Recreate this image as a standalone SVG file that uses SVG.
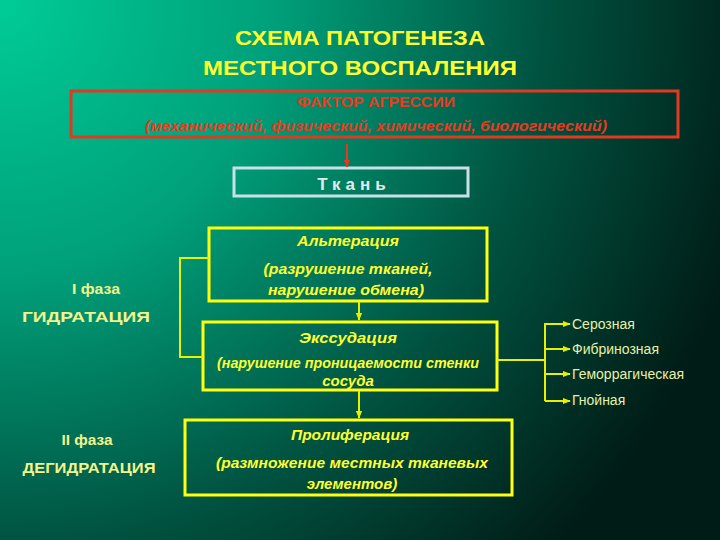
<svg xmlns="http://www.w3.org/2000/svg" width="720" height="540" viewBox="0 0 720 540">
<defs>
<radialGradient id="bg" cx="0" cy="0" r="780" gradientUnits="userSpaceOnUse">
<stop offset="0" stop-color="#00cc98"/>
<stop offset="0.35" stop-color="#00a07a"/>
<stop offset="0.7" stop-color="#005240"/>
<stop offset="1" stop-color="#001c16"/>
</radialGradient>
<marker id="ay" viewBox="0 0 10 10" refX="9" refY="5" markerWidth="4" markerHeight="4" orient="auto" markerUnits="strokeWidth"><path d="M0,1 L10,5 L0,9 z" fill="#e8f000"/></marker>
<marker id="ar" viewBox="0 0 10 10" refX="9" refY="5" markerWidth="4" markerHeight="4" orient="auto" markerUnits="strokeWidth"><path d="M0,1 L10,5 L0,9 z" fill="#e03a20"/></marker>
</defs>
<style>
.box{fill:none;stroke:#ffff10;stroke-width:3}
.t{font-family:"Liberation Sans",Arial,sans-serif;font-weight:bold;fill:#ffff30;text-anchor:middle}
.it{font-style:italic;font-size:15px}
.ph{font-family:"Liberation Sans",Arial,sans-serif;font-weight:bold;fill:#f4f48c;font-size:14px;text-anchor:middle}
.lb{font-family:"Liberation Sans",Arial,sans-serif;fill:#e6f0a8;font-size:14px}
.cy{fill:none;stroke:#e8f000;stroke-width:2}
</style>
<rect width="720" height="540" fill="url(#bg)"/>
<g id="title">
<text class="t" x="360" y="45" font-size="21" textLength="250" lengthAdjust="spacingAndGlyphs">СХЕМА ПАТОГЕНЕЗА</text>
<text class="t" x="360" y="75" font-size="21" textLength="314" lengthAdjust="spacingAndGlyphs">МЕСТНОГО ВОСПАЛЕНИЯ</text>
</g>
<g id="factor">
<rect x="71" y="91" width="607" height="46" fill="none" stroke="#e03a20" stroke-width="3"/>
<text x="376" y="107" font-family="'Liberation Sans',Arial,sans-serif" font-weight="bold" font-size="14" fill="#e83a20" text-anchor="middle" textLength="158" lengthAdjust="spacingAndGlyphs">ФАКТОР АГРЕССИИ</text>
<text x="376" y="131" font-family="'Liberation Sans',Arial,sans-serif" font-weight="bold" font-style="italic" font-size="14" fill="#e83a20" text-anchor="middle" textLength="462" lengthAdjust="spacingAndGlyphs">(механический, физический, химический, биологический)</text>
</g>
<g id="tissue">
<rect x="234" y="168" width="234" height="28" fill="none" stroke="#c8e0e8" stroke-width="3"/>
<text x="354" y="190" font-family="'Liberation Sans',Arial,sans-serif" font-weight="bold" font-size="17" fill="#e0ecec" text-anchor="middle" letter-spacing="5">Ткань</text>
</g>
<g id="alteration">
<rect class="box" x="209" y="228" width="278" height="73"/>
<text class="t it" x="348" y="246" textLength="102" lengthAdjust="spacingAndGlyphs">Альтерация</text>
<text class="t it" x="348" y="274" textLength="169" lengthAdjust="spacingAndGlyphs">(разрушение тканей,</text>
<text class="t it" x="346" y="295" textLength="156" lengthAdjust="spacingAndGlyphs">нарушение обмена)</text>
</g>
<g id="exudation">
<rect class="box" x="203" y="322" width="294" height="68"/>
<text class="t it" x="348" y="343" textLength="98" lengthAdjust="spacingAndGlyphs">Экссудация</text>
<text class="t it" x="348" y="368" textLength="262" lengthAdjust="spacingAndGlyphs">(нарушение проницаемости стенки</text>
<text class="t it" x="348" y="386">сосуда</text>
</g>
<g id="proliferation">
<rect class="box" x="185" y="420" width="327" height="75"/>
<text class="t it" x="350" y="440" textLength="118" lengthAdjust="spacingAndGlyphs">Пролиферация</text>
<text class="t it" x="352" y="468" textLength="272" lengthAdjust="spacingAndGlyphs">(размножение местных тканевых</text>
<text class="t it" x="352" y="489">элементов)</text>
</g>
<g id="phase1">
<text class="ph" x="96" y="294" textLength="48" lengthAdjust="spacingAndGlyphs">I фаза</text>
<text class="ph" x="86" y="322" textLength="128" lengthAdjust="spacingAndGlyphs">ГИДРАТАЦИЯ</text>
</g>
<g id="phase2">
<text class="ph" x="87" y="445" textLength="51" lengthAdjust="spacingAndGlyphs">II фаза</text>
<text class="ph" x="89" y="473" textLength="133" lengthAdjust="spacingAndGlyphs">ДЕГИДРАТАЦИЯ</text>
</g>
<g id="types">
<text class="lb" x="572" y="329">Серозная</text>
<text class="lb" x="572" y="354">Фибринозная</text>
<text class="lb" x="572" y="379">Геморрагическая</text>
<text class="lb" x="572" y="405">Гнойная</text>
</g>
<g id="connectors">
<line x1="347" y1="144" x2="347" y2="167" stroke="#e03a20" stroke-width="2" marker-end="url(#ar)"/>
<line class="cy" x1="359" y1="302" x2="359" y2="320" marker-end="url(#ay)"/>
<line class="cy" x1="359" y1="391" x2="359" y2="418" marker-end="url(#ay)"/>
<polyline class="cy" points="209,258 180,258 180,357 203,357"/>
<polyline class="cy" points="497,360 545,360"/>
<line class="cy" x1="545" y1="323" x2="545" y2="401"/>
<line class="cy" x1="545" y1="324" x2="570" y2="324" marker-end="url(#ay)"/>
<line class="cy" x1="545" y1="349" x2="570" y2="349" marker-end="url(#ay)"/>
<line class="cy" x1="545" y1="374" x2="570" y2="374" marker-end="url(#ay)"/>
<line class="cy" x1="545" y1="401" x2="570" y2="401" marker-end="url(#ay)"/>
</g>
</svg>
